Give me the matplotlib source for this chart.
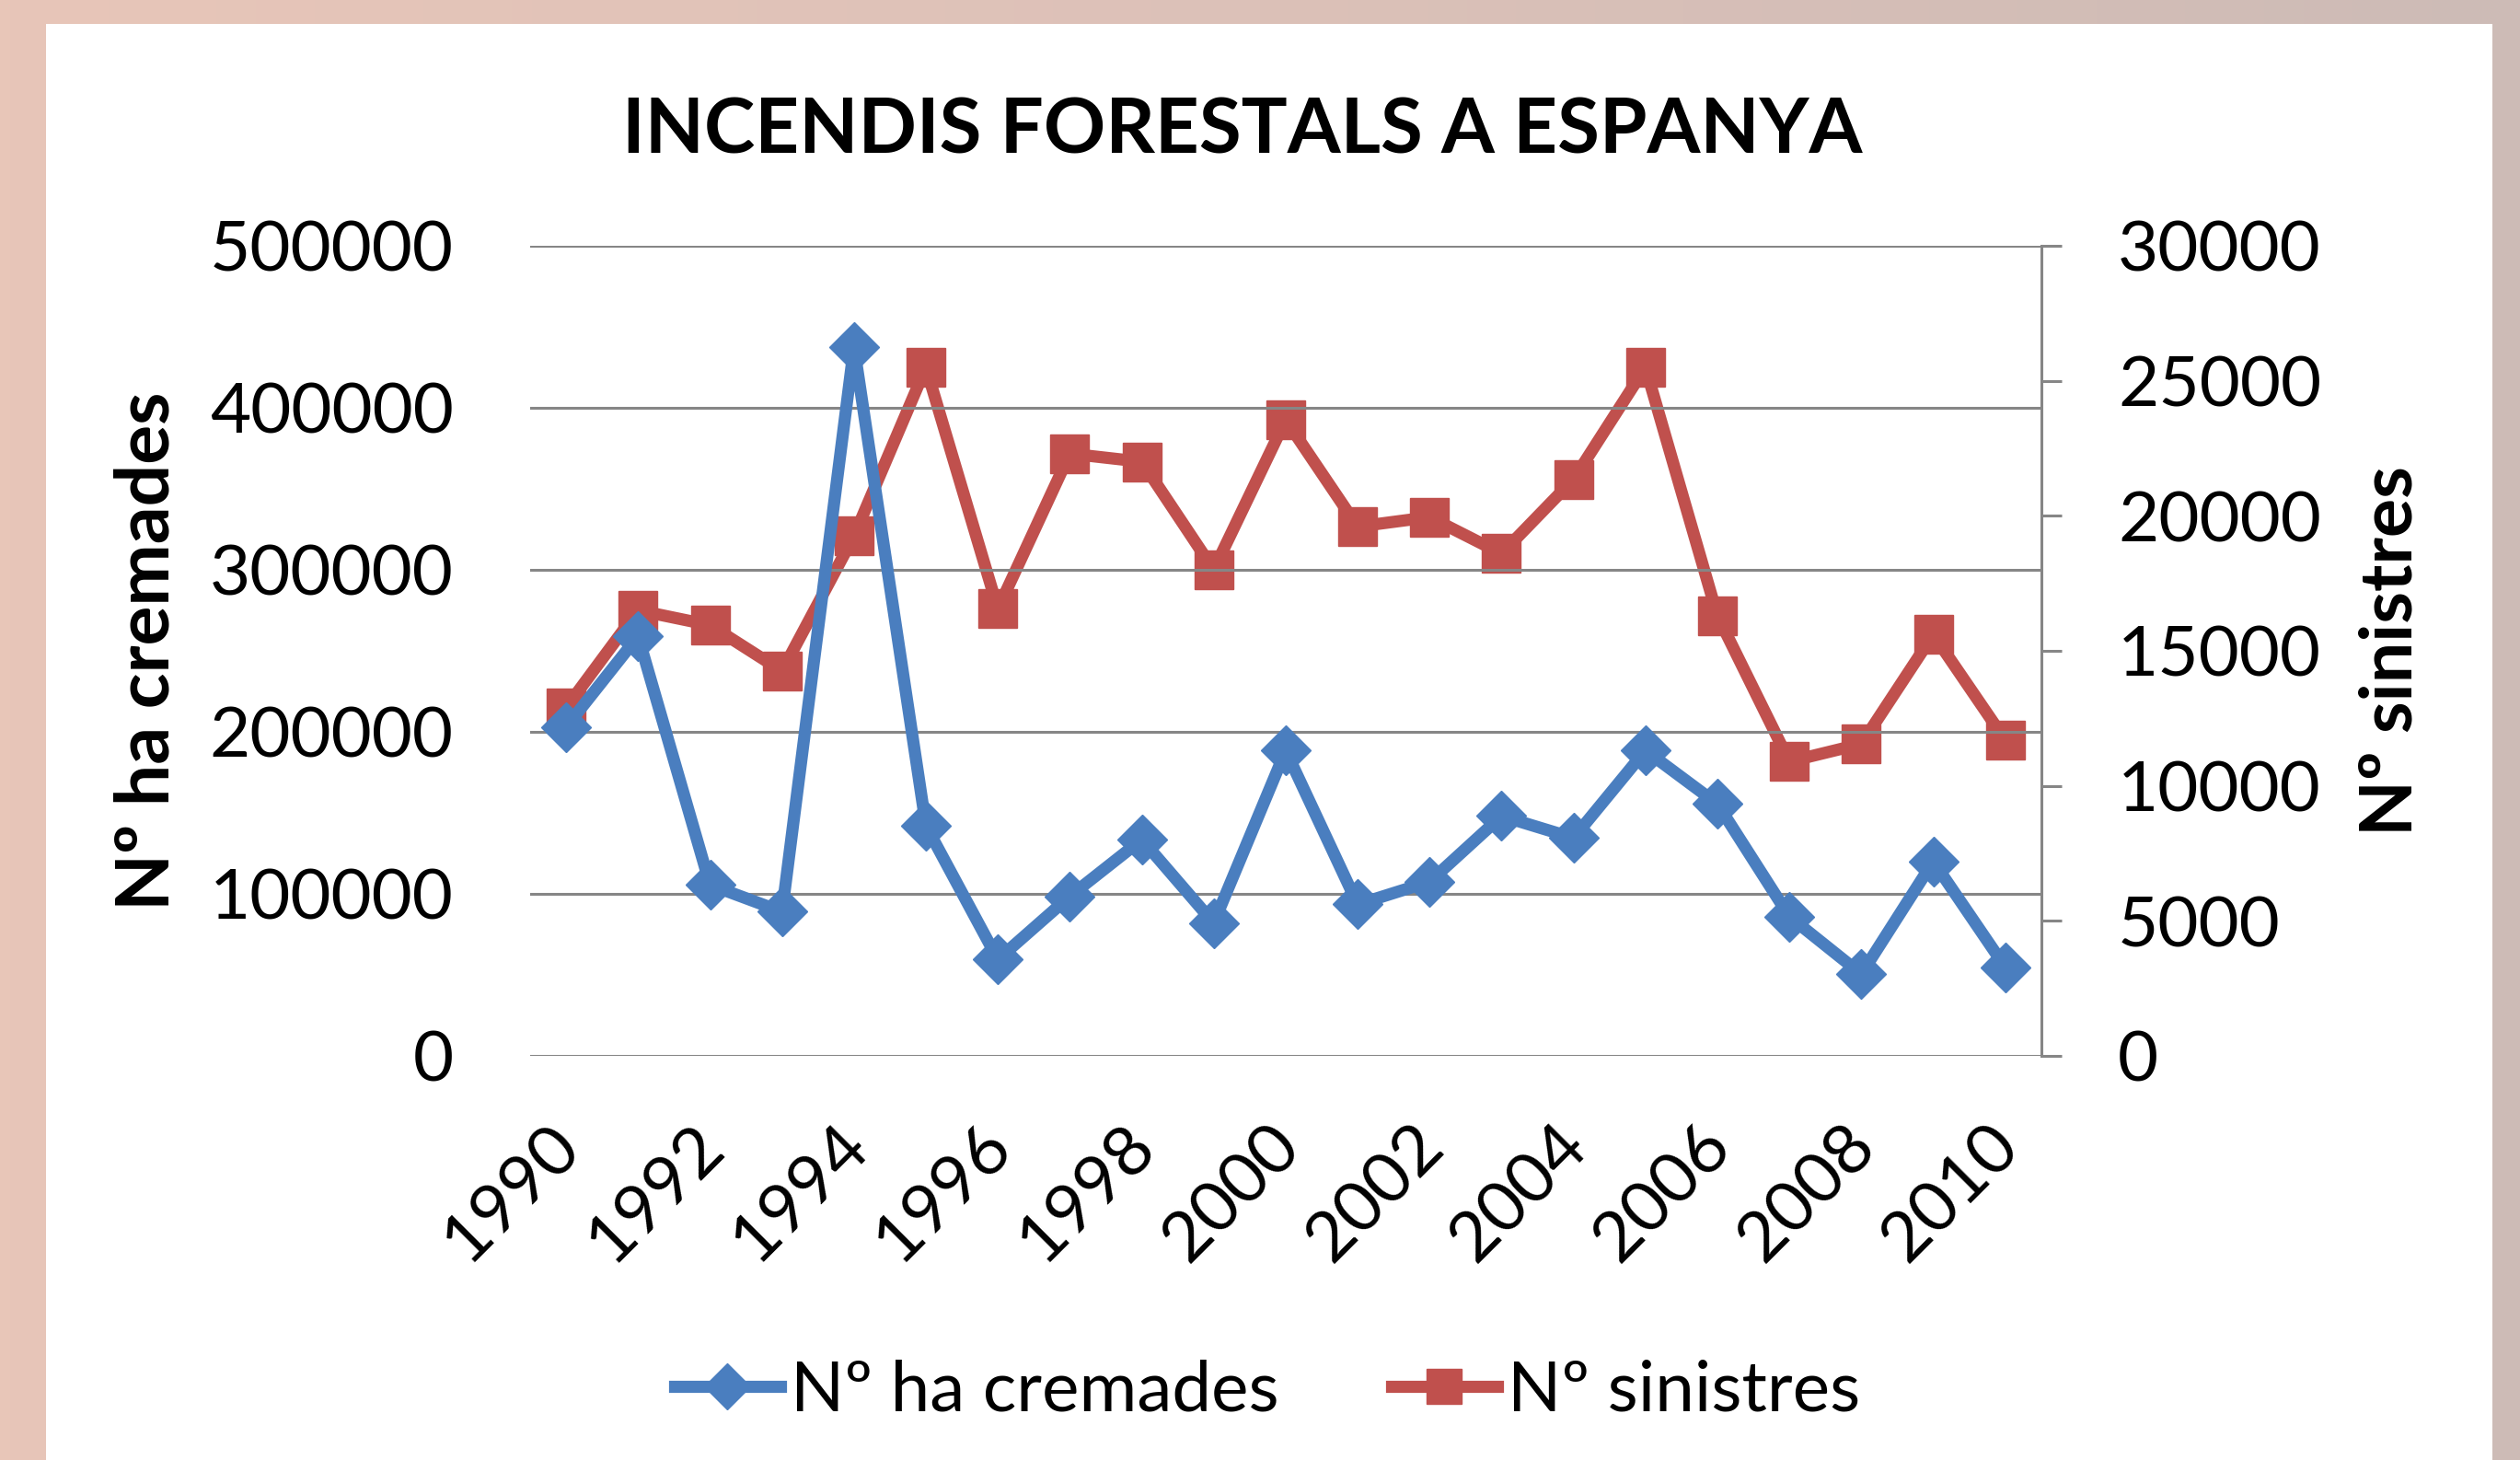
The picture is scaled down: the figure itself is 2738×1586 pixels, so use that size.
import numpy as np
import matplotlib
matplotlib.use('Agg')
import matplotlib.pyplot as plt
import matplotlib.transforms as mtransforms
from matplotlib.colors import LinearSegmentedColormap
from matplotlib.patches import Rectangle

plt.rcParams['font.family'] = ['Lato', 'DejaVu Sans']

# data
years = ['1990', '1991', '1992', '1993', '1994', '1995', '1996', '1997', '1998', '1999', '2000',
         '2001', '2002', '2003', '2004', '2005', '2006', '2007', '2008', '2009', '2010']
ha_cremades = [203000, 259000, 105500, 89000, 437500, 142000, 59500, 98500, 133500, 82000, 188500,
               93500, 107500, 148000, 134500, 188500, 155500, 86000, 50500, 120000, 54800]
sinistres = [12900, 16500, 15950, 14250, 19250, 25500, 16550, 22300, 22000, 18000, 23550,
             19600, 19950, 18600, 21350, 25500, 16300, 10900, 11550, 15600, 11700]

left_ticks = [0, 100000, 200000, 300000, 400000, 500000]
right_ticks = [0, 5000, 10000, 15000, 20000, 25000, 30000]

BLUE = '#4a7ebf'
RED = '#c0504d'
GRID = '#868686'
FS = 55

fig = plt.figure(figsize=(27.38, 15.86), dpi=100)

# pinkish backdrop with white panel
bg = fig.add_axes([0, 0, 1, 1], zorder=-10)
cmap = LinearSegmentedColormap.from_list('bg', ['#e8c6b8', '#dcc1b8', '#cdbbb6'])
bg.imshow(np.linspace(0, 1, 256)[None, :], aspect='auto', cmap=cmap, extent=[0, 1, 0, 1])
bg.add_patch(Rectangle((50 / 2738, 0), (2708 - 50) / 2738, (1586 - 26) / 1586,
                       facecolor='white', edgecolor='none'))
bg.set_xlim(0, 1)
bg.set_ylim(0, 1)
bg.axis('off')

ax = fig.add_axes([0.2104, 0.2768, 0.5996, 0.5549])
ax2 = ax.twinx()
ax.set_zorder(ax2.get_zorder() + 1)
ax.patch.set_visible(False)

x = np.arange(len(years))
ax.plot(x, ha_cremades, color=BLUE, lw=9.5, marker='D', ms=28, solid_joinstyle='round',
        label='Nº ha cremades', clip_on=False, zorder=4)
ax2.plot(x, sinistres, color=RED, lw=9.5, marker='s', ms=30, solid_joinstyle='round',
         label='Nº sinistres', clip_on=False, zorder=3)

ax.set_xlim(-0.5, len(years) - 0.5)
ax.set_ylim(0, 500000)
ax2.set_ylim(0, 30000)
ax.set_yticks(left_ticks)
ax.set_yticklabels([str(v) for v in left_ticks])
ax2.set_yticks(right_ticks)
ax2.set_yticklabels([str(v) for v in right_ticks])

for a in (ax, ax2):
    for s in a.spines.values():
        s.set_visible(False)
ax2.spines['right'].set_visible(True)
ax2.spines['right'].set_color(GRID)
ax2.spines['right'].set_linewidth(2.2)

ax.yaxis.grid(True, color=GRID, lw=2.2)
ax.set_axisbelow(True)
ax.tick_params(axis='y', length=0, pad=60, labelsize=FS)
ax.tick_params(axis='x', length=0, pad=25, labelsize=FS)
ax2.tick_params(axis='y', length=16, width=2.2, color=GRID, pad=44, labelsize=FS)

# every other year, slanted, nudged down-left like the original
ax.set_xticks(x[::2])
ax.set_xticklabels(years[::2], rotation=45, ha='right', rotation_mode='anchor')
shift = mtransforms.ScaledTranslation(-0.21, -0.27, fig.dpi_scale_trans)
for lab in ax.get_xticklabels():
    lab.set_transform(lab.get_transform() + shift)

fig.text(0.493, 0.910, 'INCENDIS FORESTALS A ESPANYA', ha='center', va='center',
         fontsize=60, fontweight='bold')
fig.text(0.0588, 0.554, 'Nº ha cremades', ha='center', va='center', rotation=90,
         fontsize=58, fontweight='bold')
fig.text(0.949, 0.554, 'Nº sinistres', ha='center', va='center', rotation=90,
         fontsize=57, fontweight='bold')

h1, l1 = ax.get_legend_handles_labels()
h2, l2 = ax2.get_legend_handles_labels()
fig.legend(h1 + h2, l1 + l2, loc='center', bbox_to_anchor=(0.503, 0.047), ncol=2,
           frameon=False, fontsize=FS, handlelength=1.5, handletextpad=0.15,
           columnspacing=1.6, markerscale=0.9)

fig.savefig('out.png', dpi=100)
